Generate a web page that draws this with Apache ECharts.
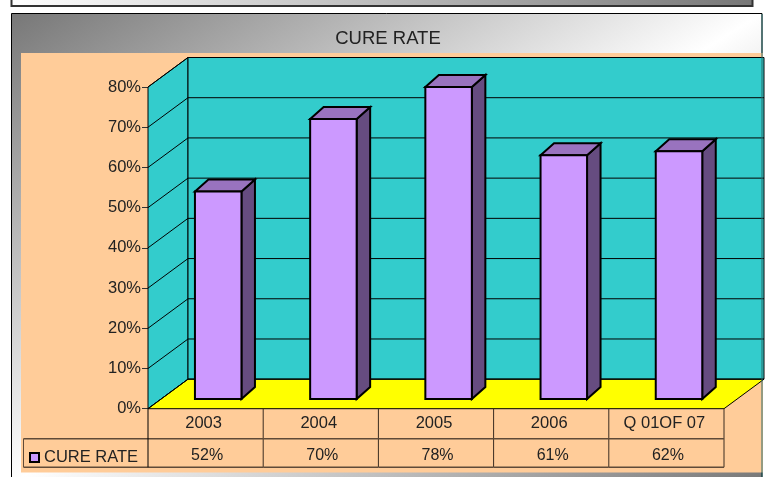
<!DOCTYPE html>
<html>
<head>
<meta charset="UTF-8">
<title>Cure rate</title>
<style>
    html, body { margin: 0; padding: 0; background: #fff; }
    #chartArea { width: 766px; height: 477px; }
</style>
</head>
<body>
<div id="chartArea"></div>
<script src="https://cdn.jsdelivr.net/npm/echarts@6/dist/echarts.min.js"></script>
<script>
var categories = ['2003', '2004', '2005', '2006', 'Q 01OF 07'];
// bar heights, the table shows them rounded
var cureRate = [51.6, 69.6, 77.6, 60.6, 61.6];
var cureRateLabels = ['52%', '70%', '78%', '61%', '62%'];
var gridValues = [0, 10, 20, 30, 40, 50, 60, 70, 80];
var seriesName = 'CURE RATE';

// 3d look: offset of back wall and of the bars from the front plane
var wallDx = 40, wallDy = -29.5;
var barDx = 12.6, barDy = -9.7, barW = 46.5, depthDx = 13.5, depthDy = -12;
var fontName = '"Liberation Sans", Arial, sans-serif';
var textColor = '#222';
var tableLine = '#5f4a38';
var tableEdge = '#3a2c20';

var myChart = echarts.init(document.getElementById('chartArea'));

function poly(points, fill, stroke, width) {
    return {
        type: 'polygon',
        shape: { points: points },
        style: { fill: fill, stroke: stroke, lineWidth: width }
    };
}

function renderWalls(params, api) {
    var band = api.size([1, 0])[0];
    var x0 = api.coord([0, 0])[0] - band / 2;
    var x1 = api.coord([categories.length - 1, 0])[0] + band / 2;
    var y0 = api.coord([0, 0])[1];
    var y1 = api.coord([0, 80])[1];
    return {
        type: 'group',
        children: [
            poly([[x0, y0], [x0 + wallDx, y0 + wallDy], [x0 + wallDx, y1 + wallDy], [x0, y1]], '#33CCCC', '#000', 1),
            poly([[x0 + wallDx, y0 + wallDy], [x1 + wallDx, y0 + wallDy], [x1 + wallDx, y1 + wallDy], [x0 + wallDx, y1 + wallDy]], '#33CCCC', '#000', 1),
            poly([[x0, y0], [x0 + wallDx, y0 + wallDy], [x1 + wallDx, y0 + wallDy], [x1, y0]], '#FFFF00', '#000', 1)
        ]
    };
}

function renderGridLine(params, api) {
    var band = api.size([1, 0])[0];
    var x0 = api.coord([0, 0])[0] - band / 2;
    var x1 = api.coord([categories.length - 1, 0])[0] + band / 2;
    var y = api.coord([0, api.value(0)])[1];
    return {
        type: 'polyline',
        shape: { points: [[x0, y], [x0 + wallDx, y + wallDy], [x1 + wallDx, y + wallDy]] },
        style: { fill: null, stroke: '#000', lineWidth: 1 }
    };
}

function renderBar(params, api) {
    var top = api.coord([api.value(0), api.value(1)]);
    var base = api.coord([api.value(0), 0]);
    var l = top[0] + barDx - barW / 2;
    var r = l + barW;
    var t = top[1] + barDy;
    var b = base[1] + barDy;
    return {
        type: 'group',
        children: [
            poly([[r, t], [r + depthDx, t + depthDy], [r + depthDx, b + depthDy], [r, b]], '#664C80', '#000', 2),
            poly([[l, t], [l + depthDx, t + depthDy], [r + depthDx, t + depthDy], [r, t]], '#9973BF', '#000', 2),
            poly([[l, t], [r, t], [r, b], [l, b]], '#CC99FF', '#000', 2)
        ]
    };
}

function renderCell(params, api) {
    var i = api.value(0);
    var band = api.size([1, 0])[0];
    var c = api.coord([i, 0]);
    var l = c[0] - band / 2;
    var y = c[1];
    return {
        type: 'group',
        children: [
            { type: 'line', shape: { x1: l + band, y1: y, x2: l + band, y2: y + 58.5 }, style: { stroke: tableEdge, lineWidth: 1 } },
            { type: 'line', shape: { x1: l, y1: y + 30, x2: l + band, y2: y + 30 }, style: { stroke: tableLine, lineWidth: 1.5 } },
            { type: 'line', shape: { x1: l, y1: y + 58.5, x2: l + band, y2: y + 58.5 }, style: { stroke: tableLine, lineWidth: 1.5 } },
            { type: 'text', style: { text: cureRateLabels[i], x: c[0] + 1.5, y: y + 46.5, align: 'center', verticalAlign: 'middle', font: '16px ' + fontName, fill: textColor } }
        ]
    };
}

var option = {
    animation: false,
    textStyle: { fontFamily: fontName },
    title: {
        text: seriesName,
        left: 383,
        top: 24,
        textAlign: 'center',
        textStyle: { fontSize: 18.5, fontWeight: 'normal', color: textColor, fontFamily: fontName }
    },
    legend: {
        data: [seriesName],
        left: 29,
        top: 449,
        padding: 0,
        itemWidth: 9,
        itemHeight: 9,
        itemGap: 0,
        icon: 'rect',
        textStyle: { fontSize: 16.5, color: textColor, fontFamily: fontName }
    },
    grid: { left: 148, right: 42, top: 87, bottom: 68.3 },
    xAxis: {
        type: 'category',
        data: categories,
        axisTick: { show: false },
        axisLine: { show: false },
        axisLabel: { margin: 6, fontSize: 16.5, padding: [0, 4, 0, 0], color: textColor, fontFamily: fontName, interval: 0 }
    },
    yAxis: {
        type: 'value',
        min: 0,
        max: 80,
        interval: 10,
        splitLine: { show: false },
        axisLine: { show: false },
        axisTick: { show: true, length: 6, lineStyle: { color: '#333' } },
        axisLabel: { margin: 7, fontSize: 16.5, color: textColor, fontFamily: fontName, formatter: '{value}%' }
    },
    graphic: [
        // top box left over from the slide above the chart
        { type: 'rect', z: -10, shape: { x: 11.5, y: -4, width: 741, height: 10 },
          style: { stroke: '#333', lineWidth: 2,
            fill: new echarts.graphic.LinearGradient(0, 0, 1, 0, [{ offset: 0, color: '#fff' }, { offset: 1, color: '#777' }]) } },
        // chart frame, gradient end point picked so the white band runs corner to corner
        { type: 'rect', z: -10, shape: { x: 11.5, y: 13.5, width: 750.5, height: 470 },
          style: { stroke: '#000', lineWidth: 1,
            fill: new echarts.graphic.LinearGradient(0, 0, 0.564, 1.436, [{ offset: 0, color: '#777' }, { offset: 0.5, color: '#fff' }, { offset: 1, color: '#777' }]) } },
        { type: 'rect', z: -9, shape: { x: 21, y: 53, width: 742, height: 419.5 }, style: { fill: '#FFCC99' } },
        { type: 'line', z: 50, shape: { x1: 762, y1: 14, x2: 762, y2: 477 }, style: { stroke: '#2a6a6a', lineWidth: 1 } },
        // table head, the cells come from the series
        { type: 'line', z: 5, shape: { x1: 23.5, y1: 438.7, x2: 148, y2: 438.7 }, style: { stroke: tableLine, lineWidth: 1.5 } },
        { type: 'line', z: 5, shape: { x1: 23.5, y1: 467.2, x2: 148, y2: 467.2 }, style: { stroke: tableLine, lineWidth: 1.5 } },
        { type: 'line', z: 5, shape: { x1: 23.5, y1: 438.7, x2: 23.5, y2: 467.2 }, style: { stroke: tableLine, lineWidth: 1 } },
        { type: 'line', z: 5, shape: { x1: 148, y1: 408.7, x2: 148, y2: 467.2 }, style: { stroke: '#000', lineWidth: 1 } }
    ],
    series: [
        { name: 'walls', type: 'custom', z: 1, data: [[0]], renderItem: renderWalls, silent: true },
        { name: 'grid', type: 'custom', z: 2, data: gridValues.map(function (v) { return [v]; }), renderItem: renderGridLine, silent: true },
        { name: 'table', type: 'custom', z: 2, data: categories.map(function (c, i) { return [i]; }), renderItem: renderCell, silent: true },
        {
            name: seriesName,
            type: 'custom',
            z: 3,
            itemStyle: { color: '#CC99FF', borderColor: '#000', borderWidth: 2 },
            data: cureRate.map(function (v, i) { return [i, v]; }),
            renderItem: renderBar
        }
    ]
};
myChart.setOption(option);
</script>
</body>
</html>
